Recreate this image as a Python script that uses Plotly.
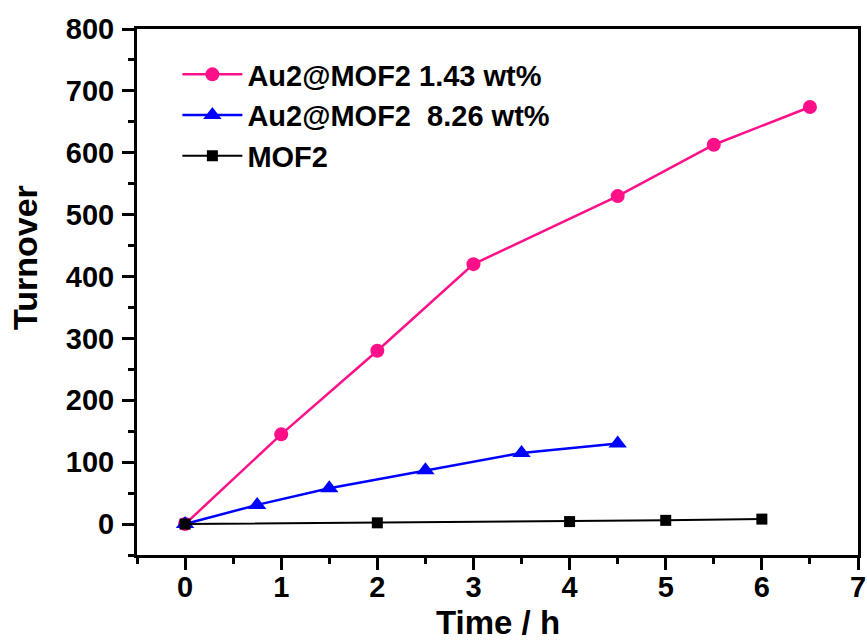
import plotly.graph_objects as go

# Turnover vs. time for the three catalysts
t_au_143 = [0, 1, 2, 3, 4.5, 5.5, 6.5]
ton_au_143 = [0, 145, 280, 420, 530, 613, 674]

t_au_826 = [0, 0.75, 1.5, 2.5, 3.5, 4.5]
ton_au_826 = [0, 31, 58, 87, 115, 130]

t_mof = [0, 2, 4, 5, 6]
ton_mof = [0, 2, 4, 6, 8]

names = ["Au2@MOF2 1.43 wt%", "Au2@MOF2\u00a0 8.26 wt%", "MOF2"]

FONT = "Liberation Sans, Arial, sans-serif"
PINK = "#ff1088"

fig = go.Figure()
fig.add_trace(go.Scatter(
    x=t_au_143, y=ton_au_143, name=names[0], mode="lines+markers",
    line=dict(color=PINK, width=2.5),
    marker=dict(symbol="circle", size=14, color=PINK)))
fig.add_trace(go.Scatter(
    x=t_au_826, y=ton_au_826, name=names[1], mode="lines+markers",
    line=dict(color="#0000ff", width=2.5),
    marker=dict(symbol="triangle-up", size=16, color="#0000ff")))
fig.add_trace(go.Scatter(
    x=t_mof, y=ton_mof, name=names[2], mode="lines+markers",
    line=dict(color="#000000", width=2),
    marker=dict(symbol="square", size=11, color="#000000")))

axis_common = dict(
    showgrid=False, zeroline=False, showline=True, linecolor="black",
    linewidth=3, mirror=True, ticks="outside", ticklen=12, tickwidth=3,
    tickcolor="black", automargin=False,
    tickfont=dict(family=FONT, size=29, color="black", weight="bold"),
)

fig.update_xaxes(
    range=[-0.5, 7], tickmode="linear", tick0=0, dtick=1,
    minor=dict(ticks="outside", ticklen=6, tickwidth=3, tickcolor="black", dtick=0.5, tick0=0),
    ticklabelstandoff=-8,
    **axis_common)
fig.update_yaxes(
    range=[-50, 800], tickmode="linear", tick0=0, dtick=100,
    minor=dict(ticks="outside", ticklen=6, tickwidth=3, tickcolor="black", dtick=50, tick0=0),
    ticklabelstandoff=2,
    **axis_common)

# Axis titles
fig.add_annotation(
    text="<b>Time / h</b>", xref="paper", yref="paper", x=0.5, y=0,
    xanchor="center", yanchor="middle", yshift=-67, showarrow=False,
    font=dict(family=FONT, size=33, color="black"))
fig.add_annotation(
    text="<b>Turnover</b>", xref="paper", yref="paper", x=0, y=0.5,
    xanchor="center", yanchor="middle", xshift=-112, yshift=34,
    textangle=-90, showarrow=False,
    font=dict(family=FONT, size=34, color="black"))

fig.update_layout(
    width=867, height=640,
    margin=dict(l=137, r=9, t=29, b=85),
    plot_bgcolor="white", paper_bgcolor="white",
    legend=dict(
        x=0.056, y=0.962, xanchor="left", yanchor="top",
        bgcolor="rgba(0,0,0,0)", borderwidth=0, itemwidth=60,
        tracegroupgap=0,
        font=dict(family=FONT, size=29, color="black", weight="bold"),
    ),
)

fig.write_html("out.html")
